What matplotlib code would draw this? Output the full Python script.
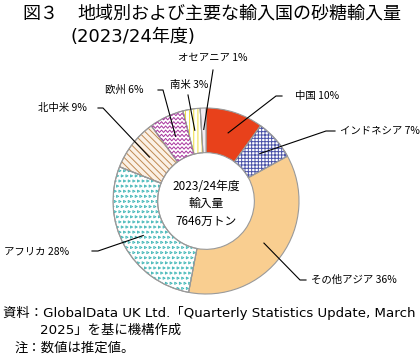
import numpy as np
import matplotlib.pyplot as plt
from matplotlib.patches import Wedge

plt.rcParams['font.family'] = ['Noto Sans CJK JP', 'DejaVu Sans']
plt.rcParams['hatch.linewidth'] = 0.7

# data (share of imports, %)
regions = ['中国', 'インドネシア', 'その他アジア', 'アフリカ', '北中米', '欧州', '南米', 'オセアニア']
shares = [10, 7, 36, 28, 9, 6, 3, 1]
center_lines = ['2023/24年度', '輸入量', '7646万トン']

# fill / hatch styles per slice
face_cols = ['#E8411B', 'white', '#F9CE90', 'white', '#FBF1E6', 'white', 'white', '#F2ECF2']
hatch_cols = [None, '#4A52A8', None, '#3DB5B5', '#C08A52', '#A8359E', '#EEDC3A', None]
hatches = [None, '+++++', None, 'chevron', '\\\\\\\\\\', 'zigzag', '||||', None]

W, H = 420, 364
CX, CY, R = 206, 201, 93   # donut centre / radius in pixels
LATIN = ['DejaVu Sans', 'Noto Sans CJK JP']

fig = plt.figure(figsize=(W / 100, H / 100), dpi=100)
ax = fig.add_axes([(CX - R) / W, (H - CY - R) / H, 2 * R / W, 2 * R / H])


def px(x, y):
    # pixel (top-left origin) -> data coords of the pie axes
    return (x - CX) / R, (CY - y) / R


wedges, _ = ax.pie(shares, startangle=90, counterclock=False, radius=1,
                   colors=face_cols,
                   wedgeprops=dict(width=0.48, edgecolor='#9a9a9a', linewidth=0.8))

for w, hc, h in zip(wedges, hatch_cols, hatches):
    if h is None:
        continue
    if h == 'zigzag':
        # no zigzag hatch in matplotlib, draw it and clip to the wedge
        xs = np.arange(-1.05, 1.05, 0.022)
        for row in np.arange(-1.05, 1.05, 0.045):
            ys = row + 0.013 * (-1) ** np.arange(len(xs))
            ln, = ax.plot(xs, ys, color=hc, lw=0.7)
            ln.set_clip_path(w)
    elif h == 'chevron':
        # staggered little marks like the reference's dotted pattern
        gy = np.arange(-1.05, 1.05, 0.055)
        for k, yy in enumerate(gy):
            gx = np.arange(-1.05, 1.05, 0.05) + (0.025 if k % 2 else 0)
            sc = ax.scatter(gx, np.full_like(gx, yy), marker='>', s=2.5,
                            facecolor='none', edgecolor=hc, linewidth=0.6)
            sc.set_clip_path(w)
    else:
        ov = Wedge((0, 0), 1, w.theta1, w.theta2, width=0.48, facecolor='none',
                   edgecolor=hc, linewidth=0, hatch=h)
        ax.add_patch(ov)
    # redraw the grey border on top
    ax.add_patch(Wedge((0, 0), 1, w.theta1, w.theta2, width=0.48, facecolor='none',
                       edgecolor='#9a9a9a', linewidth=0.8))

# label layout: elbow points (pixels) and text anchor
layout = {
    '中国': ([(276, 96), (282, 96)], (295, 96), 'left'),
    'インドネシア': ([(326, 131), (335, 131)], (340, 131), 'left'),
    'その他アジア': ([(300, 280), (306, 280)], (311, 280), 'left'),
    'アフリカ': ([(98, 251), (92, 251)], (4, 251), 'left'),
    '北中米': ([(103, 108), (98, 108)], (38, 108), 'left'),
    '欧州': ([(163, 90), (158, 90)], (105, 90), 'left'),
    '南米': ([(188, 95)], (189, 85), 'center'),
    'オセアニア': ([(213, 70)], (213, 58), 'center'),
}

for w, name, s in zip(wedges, regions, shares):
    mid = np.deg2rad((w.theta1 + w.theta2) / 2)
    x0, y0 = 0.77 * np.cos(mid), 0.77 * np.sin(mid)
    pts, tpos, ha = layout[name]
    xs = [x0] + [px(*p)[0] for p in pts]
    ys = [y0] + [px(*p)[1] for p in pts]
    ax.plot(xs, ys, color='black', lw=0.8, clip_on=False)
    tx, ty = px(*tpos)
    ax.text(tx, ty, f'{name} {s}%', fontsize=7.5, ha=ha, va='center', clip_on=False)

for i, t in enumerate(center_lines):
    ax.text(0, px(0, 186 + 17.5 * i)[1], t, fontsize=8.5, ha='center', va='center')

ax.set_xlim(-1, 1)
ax.set_ylim(-1, 1)
ax.axis('off')

# title
fig.text(22 / W, 1 - 14 / H, '図３', fontsize=13, va='center')
fig.text(77 / W, 1 - 14 / H, '地域別および主要な輸入国の砂糖輸入量', fontsize=13, va='center')
fig.text(70 / W, 1 - 37 / H, '(2023/24年度)', fontsize=13, va='center', family=LATIN)

# notes
fig.text(3 / W, 1 - 313 / H, '資料：GlobalData UK Ltd.「Quarterly Statistics Update, March',
         fontsize=9.6, va='center', family=LATIN)
fig.text(40 / W, 1 - 330 / H, '2025」を基に機構作成', fontsize=9.6, va='center', family=LATIN)
fig.text(15 / W, 1 - 348 / H, '注：数値は推定値。', fontsize=9.6, va='center', family=LATIN)

fig.savefig('out.png', dpi=100)
